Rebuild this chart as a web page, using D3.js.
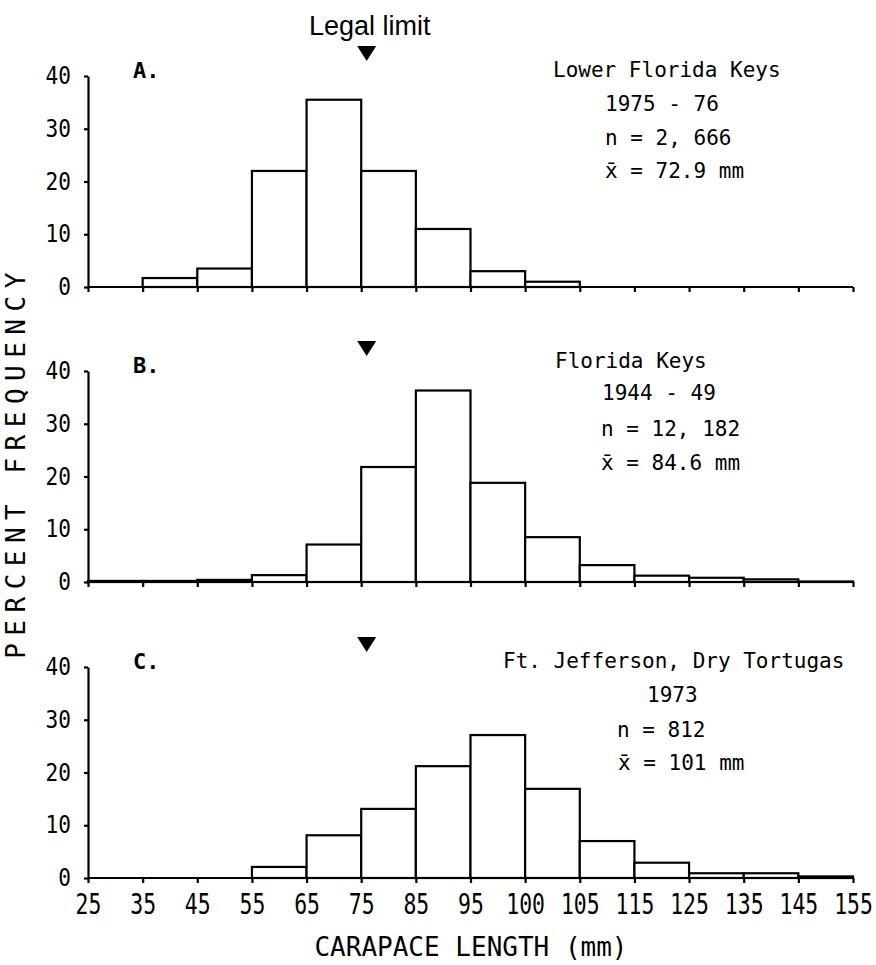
<!DOCTYPE html>
<html>
<head>
<meta charset="utf-8">
<script src="https://cdnjs.cloudflare.com/ajax/libs/d3/7.8.5/d3.min.js"></script>
<style>
  body { margin: 0; background: #fff; }
  .axis path, .axis line { stroke: #000; stroke-width: 2.2px; }
  .axis text { fill: #000; font-family: "DejaVu Sans Mono", monospace; }
  .note { font-family: "DejaVu Sans Mono", monospace; font-size: 21px; fill: #000; }
</style>
</head>
<body>
<div id="chart"></div>
<script>
// Size-class edges (mm) as printed under the x-axis
var tickLabels = ['25', '35', '45', '55', '65', '75', '85', '95', '100', '105', '115', '125', '135', '145', '155'];
var yTicks = [0, 10, 20, 30, 40];
var legalLimit = 76;

// Percent frequency per size class (one value per bin between edges)
var freqA = [0, 1.7, 3.5, 22, 35.5, 22, 11, 3, 1, 0, 0, 0, 0, 0];
var freqB = [0.2, 0.2, 0.4, 1.3, 7.1, 21.8, 36.3, 18.8, 8.5, 3.2, 1.2, 0.8, 0.5, 0.1];
var freqC = [0, 0, 0, 2.1, 8.1, 13.1, 21.2, 27.1, 16.9, 7, 2.9, 0.9, 0.9, 0.3];

var panelNames = ['A.', 'B.', 'C.'];
var notesA = ['Lower Florida Keys', '1975 - 76', 'n = 2, 666', 'x\u0304 = 72.9 mm'];
var notesB = ['Florida Keys', '1944 - 49', 'n = 12, 182', 'x\u0304 = 84.6 mm'];
var notesC = ['Ft. Jefferson, Dry Tortugas', '1973', 'n = 812', 'x\u0304 = 101 mm'];

// Layout
var width = 876, height = 965;
var left = 88, right = 853;
var panelH = 211;

var panels = [
  {top: 76,  freq: freqA, notes: notesA, noteX: [553, 605, 605, 605], noteY: [77, 111, 145, 178]},
  {top: 371, freq: freqB, notes: notesB, noteX: [555, 602, 601, 601], noteY: [368, 400, 436, 470]},
  {top: 667, freq: freqC, notes: notesC, noteX: [503, 647, 617, 618], noteY: [668, 702, 737, 770]}
];

var edges = tickLabels.map(Number);
var step = (right - left) / (edges.length - 1);

// Printed ticks are evenly spaced, so map mm -> position piecewise
var x = d3.scaleLinear()
          .domain(edges)
          .range(edges.map(function(d, i) { return left + i * step; }));

var svg = d3.select('#chart')
            .append('svg')
            .attr('width', width)
            .attr('height', height);

panels.forEach(function(p, k) {
  var y = d3.scaleLinear()
            .domain([0, 40])
            .range([p.top + panelH, p.top]);

  var g = svg.append('g');

  // Histogram bars
  var bins = p.freq.map(function(v, i) { return {x0: edges[i], x1: edges[i + 1], v: v}; })
                   .filter(function(d) { return d.v > 0; });

  g.selectAll('rect')
    .data(bins)
    .enter().append('rect')
      .attr('x', function(d) { return x(d.x0); })
      .attr('width', function(d) { return x(d.x1) - x(d.x0); })
      .attr('y', function(d) { return y(d.v); })
      .attr('height', function(d) { return y(0) - y(d.v); })
      .attr('fill', '#fff')
      .attr('stroke', '#000')
      .attr('stroke-width', 2.2);

  // x-axis (labels only on the last panel)
  var x_axis = d3.axisBottom(x)
                 .tickValues(edges)
                 .tickSizeInner(5)
                 .tickSizeOuter(0)
                 .tickPadding(10)
                 .tickFormat(function(d, i) { return k == 2 ? tickLabels[i] : ''; });

  var gx = g.append('g')
    .attr('class', 'axis')
    .attr('transform', 'translate(0,' + y(0) + ')')
    .call(x_axis);

  gx.selectAll('text')
    .attr('font-size', 29)
    .attr('transform', 'scale(0.74,1)');

  // y-axis
  var y_axis = d3.axisLeft(y)
                 .tickValues(yTicks)
                 .tickSizeInner(4)
                 .tickSizeOuter(0)
                 .tickPadding(13);

  var gy = g.append('g')
    .attr('class', 'axis')
    .attr('transform', 'translate(' + left + ',0)')
    .call(y_axis);

  gy.selectAll('text')
    .attr('font-size', 24)
    .attr('x', -17 / 0.88)
    .attr('transform', 'scale(0.88,1)');

  gx.select('.domain').remove();
  g.append('line')
    .attr('x1', left).attr('x2', right)
    .attr('y1', y(0)).attr('y2', y(0))
    .attr('stroke', '#000')
    .attr('stroke-width', 2.2);

  // Panel letter
  g.append('text')
    .attr('x', 133)
    .attr('y', p.top + 2)
    .attr('font-family', '"DejaVu Sans Mono", monospace')
    .attr('font-weight', 'bold')
    .attr('font-size', 22)
    .text(panelNames[k]);

  // Legal limit marker
  var tx = x(legalLimit), ty = p.top - 30;
  g.append('path')
    .attr('d', d3.line()([[tx - 9.5, ty], [tx + 9.5, ty], [tx, ty + 15]]) + 'Z')
    .attr('fill', '#000');

  // Site annotation
  g.selectAll('.note')
    .data(p.notes)
    .enter().append('text')
      .attr('class', 'note')
      .attr('x', function(d, i) { return p.noteX[i]; })
      .attr('y', function(d, i) { return p.noteY[i]; })
      .text(function(d) { return d; });
});

svg.append('text')
  .attr('x', x(legalLimit) + 3)
  .attr('y', 35)
  .attr('text-anchor', 'middle')
  .attr('font-family', '"Liberation Sans", Arial, sans-serif')
  .attr('font-size', 27)
  .text('Legal limit');

// Axis titles
svg.append('text')
  .attr('transform', 'translate(25,462) rotate(-90)')
  .attr('text-anchor', 'middle')
  .attr('font-family', '"DejaVu Sans Mono", monospace')
  .attr('font-size', 26)
  .attr('letter-spacing', 7.5)
  .text('PERCENT FREQUENCY');

svg.append('text')
  .attr('x', 471)
  .attr('y', 956)
  .attr('text-anchor', 'middle')
  .attr('font-family', '"DejaVu Sans Mono", monospace')
  .attr('font-size', 26)
  .text('CARAPACE LENGTH (mm)');
</script>
</body>
</html>
